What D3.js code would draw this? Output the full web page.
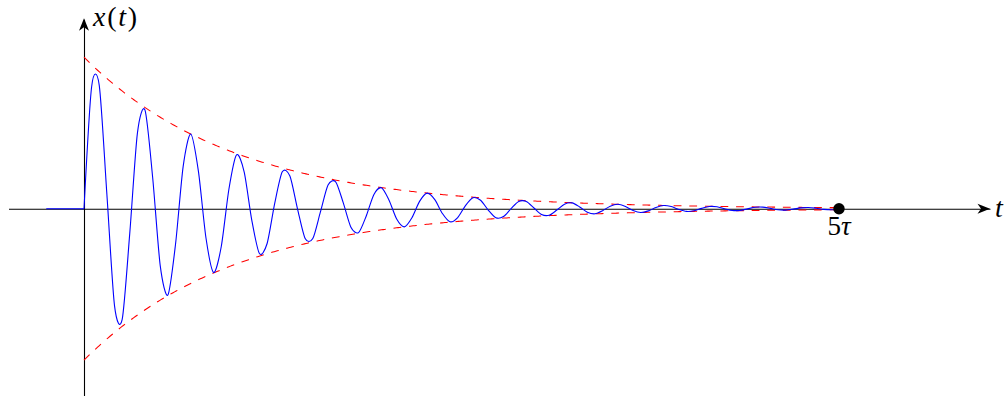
<!DOCTYPE html>
<html>
<head>
<meta charset="utf-8">
<script src="https://cdn.jsdelivr.net/npm/d3@7"></script>
<style>
  html, body { margin: 0; padding: 0; background: #fff; }
  svg { display: block; }
</style>
</head>
<body>
<div id="chart"></div>
<script>
// ---- chart data ----
const tDomain = [-0.5, 6];        // horizontal axis extent (units of tau)
const xDomain = [-1.25, 1.25];    // vertical axis extent (units of amplitude)
const amplitude = [1];            // initial amplitude of the oscillation
const timeConstant = [1];         // tau
const angularFreq = [20];         // omega (rad per tau) — ~16 cycles over 5 tau
const curveSpan = [0, 5];         // damped curve drawn from t = 0 to 5 tau
const leadIn = [-0.25, 0];        // flat part of the signal before t = 0
const sampleCount = [100];        // samples of the plotted curve
const markerT = [5];              // marked time
const markerLabel = ["5", "τ"];   // label of the marked time
const axisLabels = { x: "t", y: ["x", "(", "t", ")"] };

// ---- layout ----
const W = 1007, H = 396;
const FONT = "Liberation Serif";
const svg = d3.select("#chart").append("svg").attr("width", W).attr("height", H);

const x = d3.scaleLinear().domain(tDomain).range([84 - 0.5 * 151, 84 + 6 * 151]);
const y = d3.scaleLinear().domain(xDomain).range([208.7 + 1.25 * 151.5, 208.7 - 1.25 * 151.5]);

// axes (no ticks, arrow-tipped)
svg.append("g").attr("transform", `translate(0,${y(0)})`)
  .call(d3.axisBottom(x).tickValues([]).tickSizeOuter(0));
svg.append("g").attr("transform", `translate(${x(0)},0)`)
  .call(d3.axisLeft(y).tickValues([]).tickSizeOuter(0));
svg.selectAll(".domain").attr("stroke", "#000").attr("stroke-width", 1.1);

const arrow = "M0,0 L-12.5,-5 L-9,0 L-12.5,5 Z";
svg.append("path").attr("d", arrow).attr("fill", "#000")
  .attr("transform", `translate(${x(tDomain[1])},${y(0)})`);
svg.append("path").attr("d", arrow).attr("fill", "#000")
  .attr("transform", `translate(${x(0)},${y(xDomain[1]) - 1})rotate(-90)`);

// envelope ± A e^{-t/tau}
const envT = d3.range(0, 501).map(i => curveSpan[0] + (curveSpan[1] - curveSpan[0]) * i / 500);
const env = envT.map(t => ({ t, v: amplitude[0] * Math.exp(-t / timeConstant[0]) }));
const lineEnv = sign => d3.line().x(d => x(d.t)).y(d => y(sign * d.v));
[1, -1].forEach(s => {
  svg.append("path").datum(env).attr("d", lineEnv(s))
    .attr("fill", "none").attr("stroke", "#ff0000").attr("stroke-width", 1.05)
    .attr("stroke-dasharray", "7.8,7.8");
});

// damped oscillation
const n = sampleCount[0];
const sig = d3.range(0, n).map(i => {
  const t = curveSpan[0] + (curveSpan[1] - curveSpan[0]) * i / (n - 1);
  return { t, v: amplitude[0] * Math.exp(-t / timeConstant[0]) * Math.sin(angularFreq[0] * t) };
});
const lead = leadIn.map(t => ({ t, v: 0 }));
svg.append("path").datum(lead)
  .attr("d", d3.line().x(d => x(d.t)).y(d => y(d.v)))
  .attr("fill", "none").attr("stroke", "#0000ff").attr("stroke-width", 1.1);
svg.append("path").datum(sig)
  .attr("d", d3.line().x(d => x(d.t)).y(d => y(d.v)).curve(d3.curveCardinal.tension(0.17)))
  .attr("fill", "none").attr("stroke", "#0000ff").attr("stroke-width", 1.1);

// marker at 5 tau
svg.append("circle").attr("cx", x(markerT[0])).attr("cy", y(0)).attr("r", 5.7).attr("fill", "#000");
const ml = svg.append("text").attr("x", x(markerT[0])).attr("y", y(0) + 26)
  .attr("text-anchor", "middle").attr("font-size", 27).attr("font-family", FONT);
ml.append("tspan").text(markerLabel[0]);
ml.append("tspan").attr("font-style", "italic").text(markerLabel[1]);

// axis labels
svg.append("text").attr("x", 995).attr("y", y(0) + 8.3)
  .attr("font-size", 28).attr("font-style", "italic").attr("font-family", FONT)
  .text(axisLabels.x);
const yl = svg.append("text").attr("x", x(0) + 9).attr("y", 26)
  .attr("font-size", 28).attr("font-family", FONT)
  .attr("textLength", 44).attr("lengthAdjust", "spacing");
axisLabels.y.forEach((s, i) => {
  yl.append("tspan").attr("font-style", (i === 0 || i === 2) ? "italic" : "normal").text(s);
});
</script>
</body>
</html>
